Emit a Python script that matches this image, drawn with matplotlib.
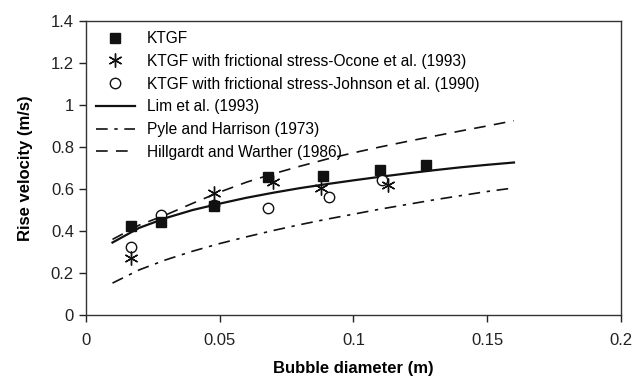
import matplotlib
matplotlib.use("Agg")
import matplotlib.pyplot as plt
from matplotlib.ticker import FuncFormatter

plt.rcParams['font.family'] = ['Liberation Sans', 'DejaVu Sans']

# simulated points
d_ktgf = [0.017, 0.028, 0.048, 0.068, 0.0886, 0.110, 0.127]
v_ktgf = [0.424, 0.443, 0.519, 0.657, 0.662, 0.690, 0.714]

d_ocone = [0.017, 0.048, 0.070, 0.088, 0.113]
v_ocone = [0.271, 0.580, 0.633, 0.605, 0.619]

d_johnson = [0.017, 0.028, 0.048, 0.068, 0.091, 0.1107]
v_johnson = [0.324, 0.476, 0.525, 0.510, 0.562, 0.643]

# correlations
d_curve = [0.01, 0.02, 0.03, 0.04, 0.05, 0.06, 0.07, 0.08,
           0.09, 0.10, 0.11, 0.12, 0.13, 0.14, 0.15, 0.16]
v_lim = [0.345, 0.415, 0.462, 0.50, 0.53, 0.558, 0.582, 0.604,
         0.623, 0.641, 0.658, 0.674, 0.689, 0.703, 0.715, 0.726]
v_pyle = [0.152, 0.215, 0.263, 0.304, 0.34, 0.372, 0.402, 0.43,
          0.456, 0.48, 0.504, 0.526, 0.548, 0.568, 0.588, 0.605]
v_hill = [0.36, 0.428, 0.477, 0.532, 0.585, 0.632, 0.672, 0.708,
          0.742, 0.772, 0.80, 0.826, 0.851, 0.876, 0.90, 0.925]

fig = plt.figure(figsize=(6.35, 3.8), dpi=100)
ax = fig.add_axes([0.135, 0.171, 0.843, 0.774])

ax.plot(d_ktgf, v_ktgf, 's', color='#111111', ms=7.5, label='KTGF', zorder=4)
ax.plot(d_ocone, v_ocone, marker=(6, 2, 0), ls='none', color='#111111', ms=10,
        mew=1.0, label='KTGF with frictional stress-Ocone et al. (1993)', zorder=5)
ax.plot(d_johnson, v_johnson, 'o', mfc='white', mec='#111111', ms=7.5, mew=1.0,
        label='KTGF with frictional stress-Johnson et al. (1990)', zorder=3)
ax.plot(d_curve, v_lim, '-', color='#111111', lw=1.6, label='Lim et al. (1993)')
ax.plot(d_curve, v_pyle, color='#111111', lw=1.2, dashes=(7, 4, 2, 4),
        label='Pyle and Harrison (1973)')
ax.plot(d_curve, v_hill, color='#111111', lw=1.2, dashes=(7, 5),
        label='Hillgardt and Warther (1986)')

ax.set_xlim(0, 0.2)
ax.set_ylim(0, 1.4)
ax.set_xticks([0, 0.05, 0.1, 0.15, 0.2])
ax.set_yticks([0, 0.2, 0.4, 0.6, 0.8, 1.0, 1.2, 1.4])
fmt = FuncFormatter(lambda v, p: '%g' % round(v, 3))
ax.xaxis.set_major_formatter(fmt)
ax.yaxis.set_major_formatter(fmt)
ax.tick_params(direction='out', length=5, width=1, labelsize=12, colors='#222222')
ax.tick_params(axis='x', pad=8)
for s in ax.spines.values():
    s.set_color('#333333')
    s.set_linewidth(1.0)

ax.set_xlabel('Bubble diameter (m)', fontsize=12, fontweight='bold', labelpad=9)
ax.set_ylabel('Rise velocity (m/s)', fontsize=12, fontweight='bold', labelpad=13)

ax.legend(loc='upper left', frameon=False, fontsize=11.2, handlelength=2.5,
          handletextpad=0.8, labelspacing=0.5, borderaxespad=0.25,
          bbox_to_anchor=(0.0, 1.0))

fig.savefig('out.png', dpi=100)
